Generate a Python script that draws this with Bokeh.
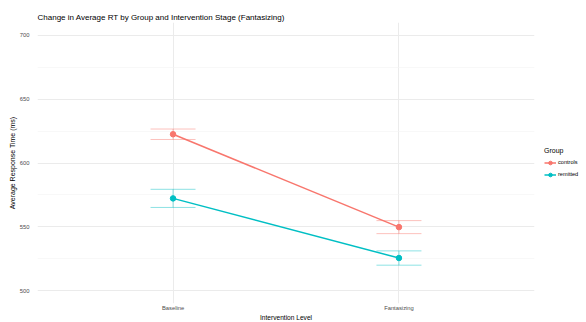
from bokeh.plotting import figure
from bokeh.models import (ColumnDataSource, Range1d, Whisker, TeeHead,
                          Legend, LegendItem, FixedTicker)
from bokeh.embed import file_html
from bokeh.resources import INLINE

# ---- data ----
stages = ["Baseline", "Fantasizing"]
groups = ["controls", "remitted"]
controls_mean = [622.5, 549.8]
controls_se = [4.1, 5.1]
remitted_mean = [572.3, 525.6]
remitted_se = [7.1, 5.6]
y_ticks = [500, 550, 600, 650, 700]

title = "Change in Average RT by Group and Intervention Stage (Fantasizing)"
colors = {"controls": "#F8766D", "remitted": "#00BFC4"}
FONT = "Liberation Sans"

means = {"controls": controls_mean, "remitted": remitted_mean}
ses = {"controls": controls_se, "remitted": remitted_se}
xpos = [i + 1 for i in range(len(stages))]

p = figure(
    x_range=Range1d(0.4, len(stages) + 0.6),
    y_range=Range1d(490, 710),
    frame_width=497, frame_height=281,
    output_backend="svg", toolbar_location=None,
    title=title,
    min_border_left=37, min_border_top=22, min_border_right=0, min_border_bottom=0,
)
p.background_fill_color = "white"
p.border_fill_color = "white"
p.outline_line_color = None

p.title.text_font = FONT
p.title.text_font_size = "8px"
p.title.text_font_style = "normal"
p.title.text_color = "#000000"
p.title.align = "left"
p.title.standoff = 2

# axes
for ax in (p.xaxis[0], p.yaxis[0]):
    ax.axis_line_color = None
    ax.major_tick_line_color = None
    ax.minor_tick_line_color = None
    ax.major_label_text_font = FONT
    ax.major_label_text_font_size = "5.8px"
    ax.major_label_text_color = "#4D4D4D"
    ax.axis_label_text_font = FONT
    ax.axis_label_text_font_style = "normal"
    ax.axis_label_text_color = "#000000"
    ax.major_tick_out = 0
    ax.major_tick_in = 0

p.xaxis.axis_label = "Intervention Level"
p.xaxis.axis_label_text_font_size = "6.6px"
p.xaxis.major_label_standoff = 1
p.xaxis.axis_label_standoff = 0
p.xaxis.ticker = FixedTicker(ticks=xpos, minor_ticks=[])
p.xaxis.major_label_overrides = {x: s for x, s in zip(xpos, stages)}

p.yaxis.axis_label = "Average Response Time (ms)"
p.yaxis.axis_label_text_font_size = "7px"
p.yaxis.major_label_standoff = 4
p.yaxis.axis_label_standoff = 1

minor = [(a + b) / 2 for a, b in zip(y_ticks[:-1], y_ticks[1:])]
p.yaxis.ticker = FixedTicker(ticks=y_ticks, minor_ticks=minor)

p.xgrid.grid_line_color = "#EBEBEB"
p.xgrid.grid_line_width = 1
p.ygrid.grid_line_color = "#EBEBEB"
p.ygrid.grid_line_width = 1
p.ygrid.minor_grid_line_color = "#F4F4F4"
p.ygrid.minor_grid_line_width = 0.6

items = []
for g in groups:
    m = means[g]
    s = ses[g]
    src = ColumnDataSource(dict(
        x=xpos, y=m,
        upper=[a + b for a, b in zip(m, s)],
        lower=[a - b for a, b in zip(m, s)],
    ))
    c = colors[g]
    w = Whisker(source=src, base="x", upper="upper", lower="lower",
                line_color=c, line_alpha=0.45, line_width=1,
                upper_head=TeeHead(size=45, line_color=c, line_alpha=0.45, line_width=1),
                lower_head=TeeHead(size=45, line_color=c, line_alpha=0.45, line_width=1))
    p.add_layout(w)
    r1 = p.line("x", "y", source=src, line_color=c, line_width=1.5)
    r2 = p.scatter("x", "y", source=src, size=5.5, fill_color=c, line_color=c)
    items.append(LegendItem(label=g, renderers=[r1, r2]))

legend = Legend(items=items, title="Group", location="center_left",
                title_text_font=FONT, title_text_font_size="7px", title_text_font_style="normal",
                title_text_color="#000000", title_standoff=4,
                label_text_font=FONT, label_text_font_size="5.6px", label_text_color="#000000",
                glyph_width=12, glyph_height=9, spacing=3, padding=0, margin=10,
                label_standoff=2, label_height=9,
                border_line_color=None, background_fill_alpha=0)
p.add_layout(legend, "right")

open("out.html", "w").write(file_html(p, INLINE))
